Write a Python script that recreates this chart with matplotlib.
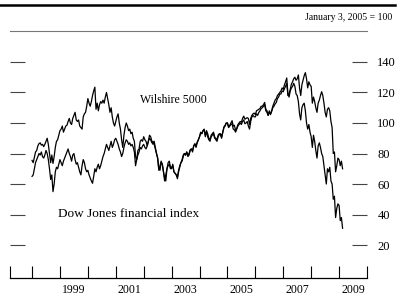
import numpy as np
import matplotlib
matplotlib.use("Agg")
import matplotlib.pyplot as plt
from matplotlib.lines import Line2D

plt.rcParams['font.family'] = ['Liberation Serif', 'DejaVu Serif']

# half-monthly readings (1st and 16th of each month), January 3, 2005 = 100
wilshire = {
    1998: [75.5, 74, 77.5, 81, 82, 85, 86.5, 87, 85.5, 86, 84.5, 86,
           88, 90, 86, 80, 74, 79, 73.5, 78, 84, 88, 89, 92],
    1999: [95, 96, 98, 94, 96, 98, 98.5, 101, 103, 100, 99, 103,
           105, 107, 102, 101, 102, 98, 97, 96, 104, 106, 107, 111],
    2000: [116, 113, 111, 114, 118, 121, 123.5, 109, 113, 108, 112, 114,
           113, 115, 113, 117, 120, 116, 112, 107, 110, 104, 100, 98],
    2001: [101, 104, 106, 100, 96, 89, 84, 92, 97, 100, 98, 95,
           96, 93, 94, 90, 88, 78, 76, 82, 83, 88, 89, 88],
    2002: [91, 89, 88, 85, 88, 92, 91, 88, 86, 88, 84, 80,
           77, 70, 69, 74, 73, 68, 64, 62, 70, 74, 75, 71],
    2003: [70, 73, 68, 67, 66, 64.5, 69, 72, 74, 76, 79, 80,
           79, 81, 79, 80, 82.5, 83, 82, 85, 86.5, 85, 87.5, 89],
    2004: [91, 93.5, 93, 95, 95.5, 91, 95, 93, 90, 89, 92, 93,
           94, 91, 89, 88, 91, 92.5, 93, 91, 94, 97.5, 98.5, 100],
    2005: [100, 97.5, 98.5, 100, 101.5, 98, 98.5, 95, 96.5, 99, 100, 101,
           100.5, 103, 104.5, 102.5, 103, 103.5, 103, 99, 103, 105, 106, 106.5],
    2006: [105.5, 108, 108.5, 109, 109.5, 111, 111, 112, 113.5, 109, 108, 105,
           108, 105.5, 107.5, 110, 111, 112.5, 113.5, 116, 117, 119, 119, 121],
    2007: [120.5, 122.5, 124, 126, 118, 119, 122, 125.5, 127, 129, 130, 128,
           129, 131.5, 123, 118, 125, 128, 131, 133, 129, 123, 127, 125],
    2008: [124, 113, 117, 114, 110, 107, 113, 115, 118, 120.5, 118, 113,
           107, 104, 109, 110, 108, 101, 97, 80, 81, 68, 72, 77],
    2009: [76, 72, 75, 70],
}

dj_financial = {
    1998: [65, 66, 70, 74, 76, 78, 80, 79, 81, 78, 77, 79,
           82, 80, 76, 70, 63, 66, 55, 60, 68, 71, 70, 73],
    1999: [76, 74, 72, 75, 77, 79, 81, 83, 80, 78, 75, 79,
           80, 76, 73, 74, 71, 68, 66, 72, 76, 74, 70, 68],
    2000: [69, 66, 64, 62, 60.5, 65, 70, 68, 71, 73, 70, 72,
           75, 78, 80, 83, 86, 84, 82, 85, 88, 84, 86, 89],
    2001: [90, 88, 86, 83, 81, 78, 80, 84, 87, 89, 88, 86,
           87, 85, 86, 84, 81, 72, 76, 79, 81, 84, 83, 85],
    2002: [86, 84, 83, 85, 88, 90, 89, 87, 88, 86, 83, 80,
           77, 69, 72, 75, 73, 68, 62, 66, 70, 72, 73, 70],
    2003: [71, 72, 68, 67, 66, 63.5, 68, 71, 74, 75, 78, 80,
           79, 81, 78, 79, 82, 83, 81, 85, 86, 84, 87, 89],
    2004: [91, 94, 93, 95, 96, 92, 94, 91, 89, 88, 91, 92,
           93, 90, 90, 89, 92, 93, 92, 90, 94, 97, 98, 100],
    2005: [100, 97, 98, 99, 99.5, 96, 95.5, 94, 96, 98, 99, 100,
           99, 101, 102, 99.5, 100, 101, 98, 96, 101, 104, 105, 104],
    2006: [104, 106, 105, 107, 108, 109.5, 110, 111, 112, 108, 107, 105,
           107, 106, 108, 111, 113, 115, 116, 118, 119, 120, 121, 123],
    2007: [122, 125, 127, 129.5, 119, 117, 121, 123, 124, 126, 124, 119,
           118, 114, 106, 102, 110, 112, 113, 108, 100, 96, 99, 94],
    2008: [91, 84, 92, 88, 82, 77, 85, 87, 84, 80, 78, 72,
           66, 60, 70, 68, 71, 62, 60, 50, 52, 38, 44, 47],
    2009: [46, 36, 38, 31],
}

right_ticks = [20, 40, 60, 80, 100, 120, 140]
year_ticks = np.arange(1998, 2011)
year_labels = ['1999', '2001', '2003', '2005', '2007', '2009']


def to_series(d):
    t, v = [], []
    for yr, vals in d.items():
        for i, val in enumerate(vals):
            t.append(yr + i / 24)
            v.append(val)
    return np.array(t), np.array(v)


t_w, v_w = to_series(wilshire)
t_d, v_d = to_series(dj_financial)

fig = plt.figure(figsize=(4.01, 2.96), dpi=100)
ax = fig.add_axes([10 / 401, 18 / 296, 357 / 401, 247 / 296])

ax.plot(t_w, v_w, color='black', lw=0.9)
ax.plot(t_d, v_d, color='black', lw=0.9)

ax.set_xlim(1997.21, 2010.0)
ax.set_ylim(-1.6, 160.3)

# spines
for s in ['left', 'right']:
    ax.spines[s].set_visible(False)
ax.spines['top'].set_color('#777777')
ax.spines['top'].set_linewidth(0.8)
ax.spines['bottom'].set_linewidth(0.9)

# x ticks: year boundaries, labels mid-year
ax.set_xticks(list(year_ticks) + [1997.21])
ax.set_xticklabels([])
ax.set_xticks([int(y) + 0.5 for y in year_labels], minor=True)
ax.set_xticklabels(year_labels, minor=True)
ax.tick_params(axis='x', which='major', direction='in', length=8.6, width=0.8)
ax.tick_params(axis='x', which='minor', length=0, pad=4, labelsize=8.5)

# y ticks: short dashes both sides, labels on right
ax.set_yticks(right_ticks)
ax.tick_params(axis='y', which='major', direction='in', length=10.5, width=0.8,
               color='#444444', left=True, right=True, labelleft=False,
               labelright=True, pad=7.5, labelsize=9)

ax.text(2001.85, 115, 'Wilshire 5000', fontsize=8.5, va='center', ha='left')
ax.text(1998.93, 40.3, 'Dow Jones financial index', fontsize=9.5,
        va='center', ha='left')

fig.text(392 / 401, 1 - 18 / 296, 'January 3, 2005 = 100', fontsize=7,
         ha='right', va='center')
fig.add_artist(Line2D([0, 0.985], [1 - 5 / 296, 1 - 5 / 296], color='black',
                      lw=1.8, transform=fig.transFigure))

fig.savefig('out.png', dpi=100)
